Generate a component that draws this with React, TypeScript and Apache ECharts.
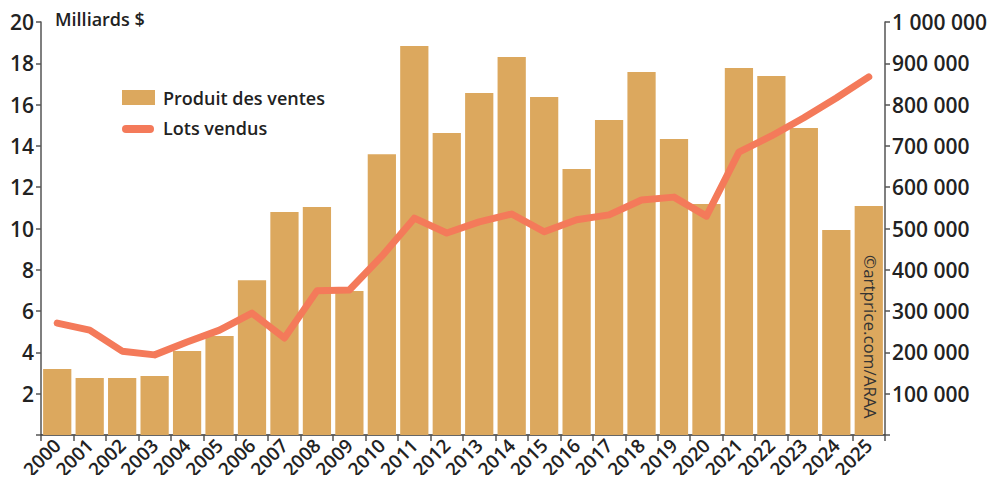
import React, { useEffect, useRef } from "react";
import * as echarts from "echarts";

const years = ["2000","2001","2002","2003","2004","2005","2006","2007","2008","2009","2010","2011","2012","2013","2014","2015","2016","2017","2018","2019","2020","2021","2022","2023","2024","2025"];
const produitVentes = [3.2,2.76,2.76,2.86,4.07,4.8,7.5,10.8,11.04,6.97,13.6,18.84,14.62,16.56,18.3,16.37,12.88,15.25,17.58,14.33,11.19,17.77,17.38,14.87,9.93,11.09];
const lotsVendus = [271000,254000,203000,194000,225000,254000,295000,235000,349000,351000,433000,525000,489000,516000,535000,492000,521000,533000,569000,576000,530000,685000,724000,768000,816000,867000];
const leftTicks = [2,4,6,8,10,12,14,16,18,20];
const rightTicks = [100000,200000,300000,400000,500000,600000,700000,800000,900000,1000000];

const FONT = "Open Sans";
const BAR = "#dca85e";
const LINE = "#f47a5a";
const TXT = "#222222";

function fmt(v: number) {
  return String(v).replace(/\B(?=(\d{3})+(?!\d))/g, " ");
}

export default function App() {
  const ref = useRef<HTMLDivElement>(null);
  useEffect(() => {
    if (!ref.current) return;
    const chart = echarts.init(ref.current, null, { renderer: "svg" });
    chart.setOption({
      animation: false,
      textStyle: { fontFamily: FONT },
      grid: { left: 41, right: 112, top: 22, bottom: 48, containLabel: false, outerBoundsMode: "none" },
      xAxis: {
        type: "category",
        data: years,
        axisLine: { lineStyle: { color: "#333", width: 1.5 } },
        axisTick: { show: true, length: 6, alignWithLabel: false, lineStyle: { color: "#555", width: 1.5 } },
        axisLabel: { rotate: 45, fontSize: 19, fontWeight: 600, color: TXT, fontFamily: FONT, margin: 7, interval: 0 },
      },
      yAxis: [
        {
          type: "value",
          min: 0,
          max: 20,
          interval: 2,
          position: "left",
          splitLine: { show: false },
          axisLine: { show: true, lineStyle: { color: "#555", width: 1.5 } },
          axisTick: { show: true, length: 5, lineStyle: { color: "#555", width: 1.5 } },
          axisLabel: {
            fontSize: 21, fontWeight: 600, color: TXT, fontFamily: FONT, margin: 7,
            formatter: (v: number) => (leftTicks.includes(v) ? String(v) : ""),
          },
        },
        {
          type: "value",
          min: 0,
          max: 1000000,
          interval: 100000,
          position: "right",
          splitLine: { show: false },
          axisLine: { show: true, lineStyle: { color: "#555", width: 1.5 } },
          axisTick: { show: true, length: 5, lineStyle: { color: "#555", width: 1.5 } },
          axisLabel: {
            fontSize: 21, fontWeight: 600, color: TXT, fontFamily: FONT, margin: 7,
            formatter: (v: number) => (rightTicks.includes(v) ? fmt(v) : ""),
          },
        },
      ],
      series: [
        {
          name: "Produit des ventes",
          type: "bar",
          data: produitVentes,
          yAxisIndex: 0,
          barCategoryGap: "13%",
          itemStyle: { color: BAR },
        },
        {
          name: "Lots vendus",
          type: "line",
          data: lotsVendus,
          yAxisIndex: 1,
          symbol: "none",
          z: 5,
          lineStyle: { color: LINE, width: 7, cap: "round", join: "round" },
        },
      ],
      graphic: [
        { type: "text", left: 55, top: 10, style: { text: "Milliards $", fontSize: 18, fontWeight: 600, fill: TXT, fontFamily: FONT } },
        { type: "rect", shape: { x: 122, y: 90, width: 33, height: 15 }, style: { fill: BAR } },
        { type: "text", x: 163, y: 98, style: { text: "Produit des ventes", fontSize: 18, fontWeight: 600, fill: TXT, fontFamily: FONT, verticalAlign: "middle" } },
        { type: "rect", shape: { x: 122, y: 125, width: 32, height: 8, r: 4 }, style: { fill: LINE } },
        { type: "text", x: 163, y: 128, style: { text: "Lots vendus", fontSize: 18, fontWeight: 600, fill: TXT, fontFamily: FONT, verticalAlign: "middle" } },
        { type: "text", x: 870, y: 255, rotation: -Math.PI / 2, z: 10, style: { text: "©artprice.com/ARAA", fontSize: 17, fill: "#333", fontFamily: FONT, align: "left", verticalAlign: "middle" } },
      ],
    });
    return () => chart.dispose();
  }, []);
  return <div ref={ref} style={{ width: 997, height: 483, margin: -8 }} />;
}
